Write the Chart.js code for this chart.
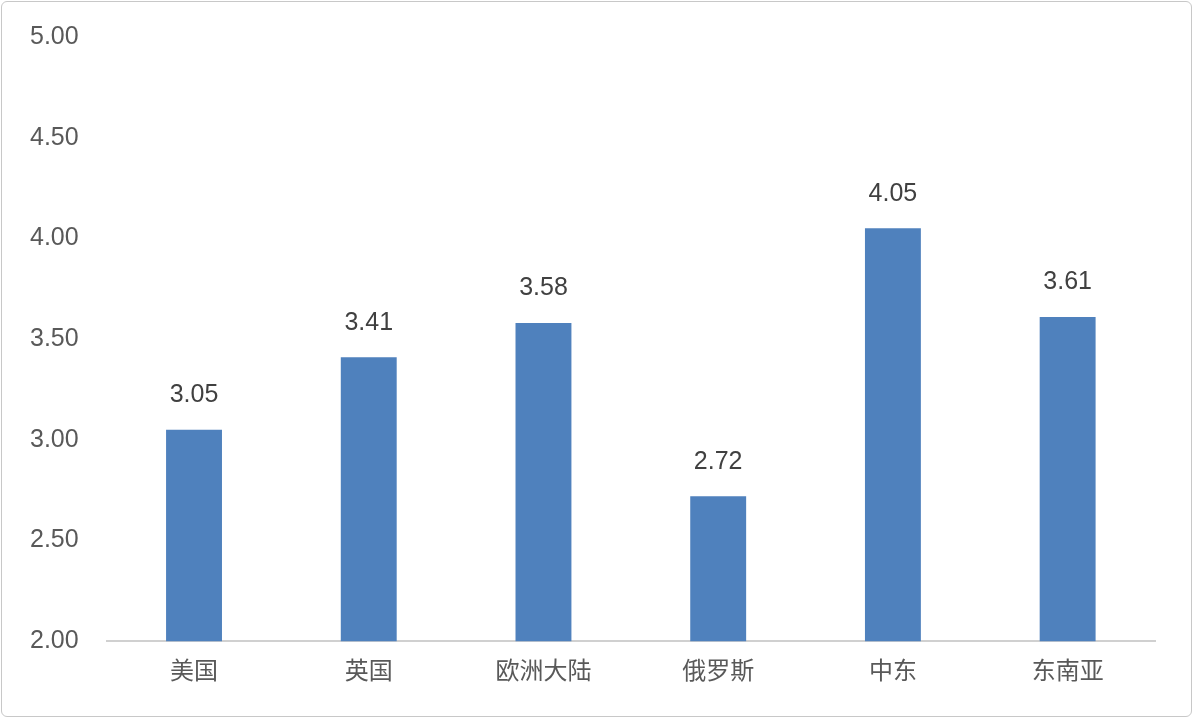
<!DOCTYPE html>
<html>
<head>
<meta charset="utf-8">
<script src="https://cdn.jsdelivr.net/npm/chart.js@4"></script>
<style>
  body { margin: 0; background: #fff; }
  #wrap { position: absolute; left: 1px; top: 1px; width: 1191px; height: 716px; border: 1px solid #c8c8c8; border-radius: 6px; box-sizing: border-box; }
</style>
</head>
<body>
<div id="wrap"><canvas id="c"></canvas></div>
<script>
// Data
const regions = ['美国', '英国', '欧洲大陆', '俄罗斯', '中东', '东南亚'];
const values = [3.05, 3.41, 3.58, 2.72, 4.05, 3.61];

// Draw value labels above each bar
const valueLabels = {
  id: 'valueLabels',
  afterDatasetsDraw(chart) {
    const ctx = chart.ctx;
    const meta = chart.getDatasetMeta(0);
    ctx.save();
    ctx.font = '25px "Liberation Sans", Arial, sans-serif';
    ctx.fillStyle = '#404040';
    ctx.textAlign = 'center';
    ctx.textBaseline = 'bottom';
    meta.data.forEach((bar, i) => {
      ctx.fillText(values[i].toFixed(2), bar.x, bar.y - 22);
    });
    ctx.restore();
  }
};

new Chart(document.getElementById('c'), {
  type: 'bar',
  data: {
    labels: regions,
    datasets: [{
      data: values,
      backgroundColor: '#4f81bd',
      categoryPercentage: 1,
      barPercentage: 0.32
    }]
  },
  options: {
    responsive: true,
    maintainAspectRatio: false,
    animation: false,
    layout: { padding: { top: 34, right: 36, bottom: 26, left: 8 } },
    plugins: { legend: { display: false }, tooltip: { enabled: false } },
    scales: {
      x: {
        grid: { display: false },
        border: { color: '#d0d0d0', width: 2 },
        ticks: { color: '#595959', font: { size: 24, family: '"Noto Sans CJK SC", sans-serif' }, padding: 6 }
      },
      y: {
        min: 2, max: 5,
        grid: { display: false },
        border: { display: false },
        ticks: {
          stepSize: 0.5,
          color: '#595959',
          padding: 20,
          font: { size: 25, family: '"Liberation Sans", Arial, sans-serif' },
          callback: v => v.toFixed(2)
        }
      }
    }
  },
  plugins: [valueLabels]
});
</script>
</body>
</html>
